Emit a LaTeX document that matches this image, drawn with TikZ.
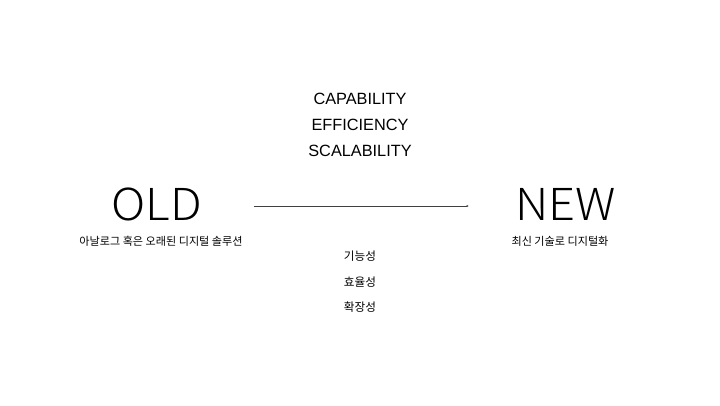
\documentclass[tikz,border=0pt]{standalone}
\usepackage{fontspec}
\setmainfont{Liberation Sans}
\newfontfamily\kr{Noto Sans CJK KR}
\newfontfamily\thin{Noto Sans CJK KR Light}
\usetikzlibrary{arrows.meta}
\begin{document}
\begin{tikzpicture}[x=1pt,y=-1pt,
  en/.style={font=\fontsize{16.3}{18}\selectfont, inner sep=0pt},
  big/.style={font=\thin\fontsize{44}{46}\selectfont, inner sep=0pt, xscale=1.07},
  sub/.style={font=\kr\fontsize{11.1}{12}\selectfont, inner sep=0pt},
  ko/.style={font=\kr\fontsize{11.6}{13}\selectfont, inner sep=0pt},
  conn/.style={draw=black!75, line width=0.9pt, -{Latex[length=2.5pt,width=2.2pt]}}]
\useasboundingbox (0,0) rectangle (720,405);
\node[en] (cap) at (360,99) {CAPABILITY};
\node[en] (eff) at (360,125) {EFFICIENCY};
\node[en] (sca) at (360,151) {SCALABILITY};
\node[big] (old) at (157,204) {OLD};
\node[big] (new) at (565.5,204) {NEW};
\node[sub] (olds) at (161,241) {아날로그 혹은 오래된 디지털 솔루션};
\node[sub] (news) at (560,241) {최신 기술로 디지털화};
\node[ko] (k1) at (360,256.5) {기능성};
\node[ko] (k2) at (360,282) {효율성};
\node[ko] (k3) at (360,307) {확장성};
\coordinate (a1) at (254,206);
\coordinate (a2) at (469,206);
\draw[conn] (a1) -- (a2);
\end{tikzpicture}
\end{document}
